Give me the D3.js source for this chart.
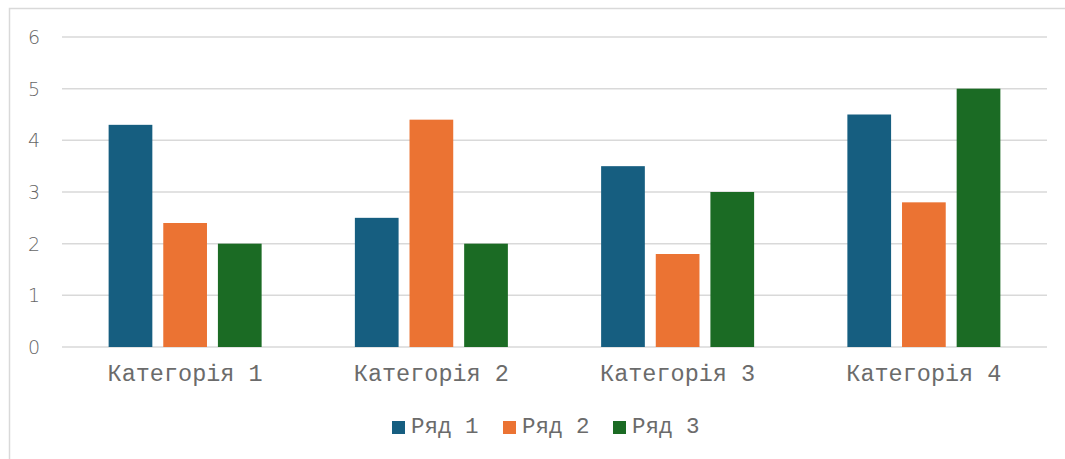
<!DOCTYPE html>
<html>
<head>
<meta charset="utf-8">
<script src="https://cdn.jsdelivr.net/npm/d3@7"></script>
<style>
  body { margin: 0; background: #fff; }
  svg { display: block; }
</style>
</head>
<body>
<div id="chart"></div>
<script>
// Chart data
const categories = ["Категорія 1", "Категорія 2", "Категорія 3", "Категорія 4"];
const seriesNames = ["Ряд 1", "Ряд 2", "Ряд 3"];
const series1 = [4.3, 2.5, 3.5, 4.5];
const series2 = [2.4, 4.4, 1.8, 2.8];
const series3 = [2.0, 2.0, 3.0, 5.0];
const yTicks = [0, 1, 2, 3, 4, 5, 6];

const colors = ["#165E80", "#EB7333", "#1B6B24"];
const allSeries = [series1, series2, series3];

const width = 1065;
const height = 459;
const svg = d3.select("#chart")
    .append("svg")
    .attr("width", width)
    .attr("height", height);

// Outer chart border (runs off the right and bottom edges)
svg.append("rect")
    .attr("x", 9.5)
    .attr("y", 8.5)
    .attr("width", width + 20)
    .attr("height", height + 20)
    .attr("fill", "none")
    .attr("stroke", "#d9d9d9")
    .attr("stroke-width", 1.5);

const plot = { left: 62, right: 1047, top: 37, bottom: 347 };

const x0 = d3.scaleBand()
    .domain(categories)
    .range([plot.left, plot.right]);

// 3 bars + 2 gaps inside a group of ~153px
const groupWidth = 153;
const x1 = d3.scaleBand()
    .domain(seriesNames)
    .range([0, groupWidth])
    .paddingInner(0.2);

const y = d3.scaleLinear()
    .domain([0, 6])
    .range([plot.bottom, plot.top]);

// Gridlines
svg.append("g")
    .selectAll("line")
    .data(yTicks)
    .enter()
    .append("line")
    .attr("x1", plot.left)
    .attr("x2", plot.right)
    .attr("y1", d => y(d))
    .attr("y2", d => y(d))
    .attr("stroke", "#d9d9d9")
    .attr("stroke-width", 1.5);

// Y tick labels
svg.append("g")
    .selectAll("text")
    .data(yTicks)
    .enter()
    .append("text")
    .attr("x", 40)
    .attr("y", d => y(d))
    .attr("dy", "0.36em")
    .attr("text-anchor", "end")
    .attr("font-family", "'DejaVu Sans', sans-serif")
    .attr("font-weight", 200)
    .attr("font-size", 19)
    .attr("fill", "#666")
    .text(d => d);

// Bars
const groups = svg.append("g")
    .selectAll("g")
    .data(categories)
    .enter()
    .append("g")
    .attr("transform", d => `translate(${x0(d) + (x0.bandwidth() - groupWidth) / 2},0)`);

groups.selectAll("rect")
    .data((d, i) => seriesNames.map((s, j) => ({ s: s, j: j, v: allSeries[j][i] })))
    .enter()
    .append("rect")
    .attr("x", d => x1(d.s))
    .attr("y", d => y(d.v))
    .attr("width", x1.bandwidth())
    .attr("height", d => y(0) - y(d.v))
    .attr("fill", d => colors[d.j]);

// Category labels
svg.append("g")
    .selectAll("text")
    .data(categories)
    .enter()
    .append("text")
    .attr("x", d => x0(d) + x0.bandwidth() / 2)
    .attr("y", 381)
    .attr("text-anchor", "middle")
    .attr("font-family", "'Liberation Mono', monospace")
    .attr("font-size", 23.5)
    .attr("fill", "#6b6b6b")
    .text(d => d);

// Legend
const legendX = [392, 503, 613];
const legend = svg.append("g")
    .selectAll("g")
    .data(seriesNames)
    .enter()
    .append("g")
    .attr("transform", (d, i) => `translate(${legendX[i]},421)`);

legend.append("rect")
    .attr("width", 13)
    .attr("height", 13)
    .attr("fill", (d, i) => colors[i]);

legend.append("text")
    .attr("x", 19)
    .attr("y", 12)
    .attr("font-family", "'Liberation Mono', monospace")
    .attr("font-size", 22.5)
    .attr("fill", "#6b6b6b")
    .text(d => d);
</script>
</body>
</html>
